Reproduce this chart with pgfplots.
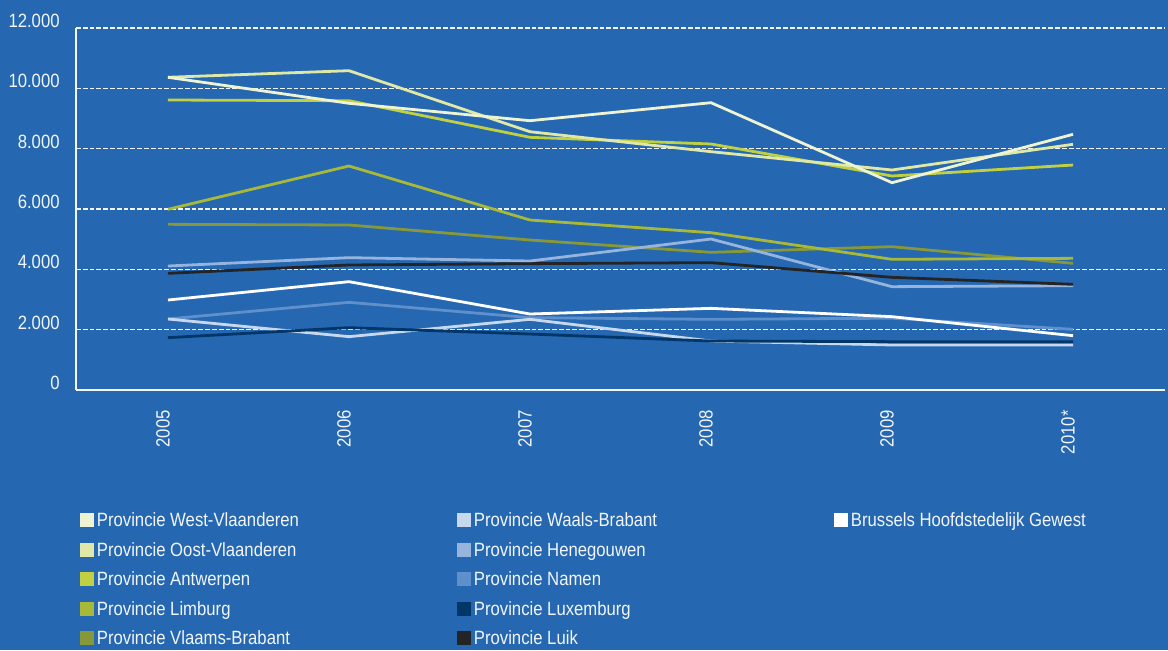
\documentclass[border=0pt]{standalone}
\usepackage{fontspec}
\setmainfont[FakeStretch=0.87]{Liberation Sans}
\usepackage{pgfplots}
\pgfplotsset{compat=1.18}
\definecolor{bg}{RGB}{37,103,176}
\definecolor{tw}{RGB}{242,246,250}
\definecolor{cWest}{HTML}{EEF3D3}
\definecolor{cOost}{HTML}{E0E8A8}
\definecolor{cAntw}{HTML}{C0D040}
\definecolor{cLimb}{HTML}{A8B838}
\definecolor{cVB}{HTML}{86983A}
\definecolor{cWB}{HTML}{C8D8EC}
\definecolor{cHene}{HTML}{96B4DC}
\definecolor{cNamen}{HTML}{6090CC}
\definecolor{cLux}{HTML}{003668}
\definecolor{cLuik}{HTML}{242424}
\definecolor{cBru}{HTML}{FFFFFF}
\newcommand{\lab}[1]{\makebox[179pt][l]{\rule[-0.5pt]{0pt}{8.7pt}#1}}
\begin{document}
\begin{tikzpicture}
\path[use as bounding box, fill=bg] (0,0) rectangle (584pt,325pt);
\begin{axis}[
  at={(38pt,130pt)}, anchor=south west,
  width=544.5pt, height=181pt, scale only axis,
  xmin=-0.508, xmax=5.508, ymin=0, ymax=12000,
  axis lines*=left,
  axis line style={tw, line width=0.6pt, -},
  xtick={0,...,5},
  xticklabels={2005,2006,2007,2008,2009,2010*},
  ytick={0,2000,...,12000},
  major tick length=0pt,
  ymajorgrids,
  grid style={tw, dash pattern=on 2.4pt off 1pt, line width=0.75pt},
  scaled y ticks=false,
  /pgf/number format/.cd, 1000 sep={.}, assume math mode=true, /pgfplots/.cd,
  tick label style={font=\fontsize{9.6}{11}\selectfont, text=tw},
  yticklabel style={inner sep=0pt, xshift=-8pt, yshift=3.5pt, anchor=east},
  xticklabel style={yshift=-10pt, xshift=-2.5pt, rotate=90, anchor=east, inner sep=0pt},
  every axis plot/.append style={line width=1.4pt, mark=none},
  legend columns=3,
  legend image code/.code={\fill[#1, draw=none] (0pt,-3.5pt) rectangle (7pt,3.5pt);},
  legend style={at={(axis description cs:0.0037,-0.332)}, anchor=north west,
    draw=none, fill=none, inner sep=0pt, text=tw,
    font=\fontsize{9.6}{11}\selectfont,
    nodes={inner xsep=1.25pt, inner ysep=0pt},
    row sep=5.05pt},
]
\addplot[cVB, forget plot] coordinates {(0,5492) (1,5470) (2,4972) (3,4564) (4,4751) (5,4199)};
\addplot[cLimb, forget plot] coordinates {(0,5990) (1,7425) (2,5635) (3,5215) (4,4332) (5,4365)};
\addplot[cAntw, forget plot] coordinates {(0,9613) (1,9590) (2,8376) (3,8155) (4,7094) (5,7458)};
\addplot[cOost, forget plot] coordinates {(0,10366) (1,10585) (2,8562) (3,7900) (4,7293) (5,8144)};
\addplot[cWest, forget plot] coordinates {(0,10366) (1,9504) (2,8927) (3,9524) (4,6872) (5,8476)};
\addplot[cHene, forget plot] coordinates {(0,4110) (1,4387) (2,4276) (3,5005) (4,3425) (5,3458)};
\addplot[cLuik, forget plot] coordinates {(0,3867) (1,4144) (2,4188) (3,4221) (4,3735) (5,3503)};
\addplot[cNamen, forget plot] coordinates {(0,2354) (1,2906) (2,2398) (3,2343) (4,2380) (5,2011)};
\addplot[cWB, forget plot] coordinates {(0,2354) (1,1768) (2,2343) (3,1624) (4,1492) (5,1492)};
\addplot[cLux, forget plot] coordinates {(0,1735) (1,2066) (2,1856) (3,1624) (4,1602) (5,1602)};
\addplot[cBru, forget plot] coordinates {(0,2983) (1,3591) (2,2519) (3,2707) (4,2431) (5,1801)};
% legend, row-wise
\addlegendimage{fill=cWest}\addlegendentry{\lab{Provincie West-Vlaanderen}}
\addlegendimage{fill=cWB}\addlegendentry{\lab{Provincie Waals-Brabant}}
\addlegendimage{fill=cBru}\addlegendentry{\lab{Brussels Hoofdstedelijk Gewest}}
\addlegendimage{fill=cOost}\addlegendentry{\lab{Provincie Oost-Vlaanderen}}
\addlegendimage{fill=cHene}\addlegendentry{\lab{Provincie Henegouwen}}
\addlegendimage{fill=bg}\addlegendentry{\lab{}}
\addlegendimage{fill=cAntw}\addlegendentry{\lab{Provincie Antwerpen}}
\addlegendimage{fill=cNamen}\addlegendentry{\lab{Provincie Namen}}
\addlegendimage{fill=bg}\addlegendentry{\lab{}}
\addlegendimage{fill=cLimb}\addlegendentry{\lab{Provincie Limburg}}
\addlegendimage{fill=cLux}\addlegendentry{\lab{Provincie Luxemburg}}
\addlegendimage{fill=bg}\addlegendentry{\lab{}}
\addlegendimage{fill=cVB}\addlegendentry{\lab{Provincie Vlaams-Brabant}}
\addlegendimage{fill=cLuik}\addlegendentry{\lab{Provincie Luik}}
\end{axis}
\end{tikzpicture}
\end{document}
